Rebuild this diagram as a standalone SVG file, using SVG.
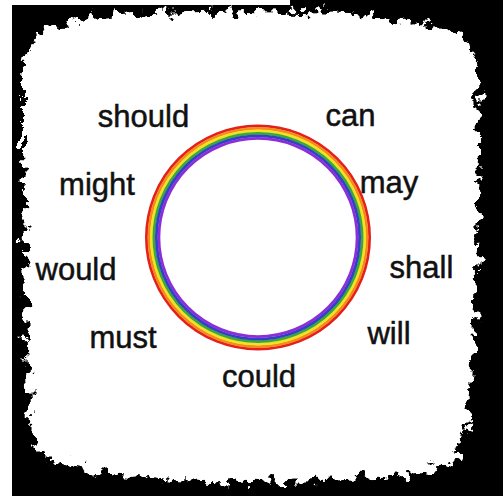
<svg xmlns="http://www.w3.org/2000/svg" width="503" height="496" viewBox="0 0 503 496">
  <defs>
    <filter id="rough" x="-10%" y="-10%" width="120%" height="120%">
      <feTurbulence type="fractalNoise" baseFrequency="0.09" numOctaves="5" seed="7" result="noise"/>
      <feDisplacementMap in="SourceGraphic" in2="noise" scale="26" xChannelSelector="R" yChannelSelector="G"/>
    </filter>
    <style>
      .word { font-family: "Liberation Sans", Arial, Helvetica, sans-serif; font-size: 31px; fill: #111; stroke: #111; stroke-width: 0.5; text-anchor: middle; }
      .band { fill: none; stroke-width: 2.8; }
    </style>
  </defs>

  <g id="background">
    <rect x="0" y="0" width="503" height="496" fill="#000"/>
    <rect x="0" y="0" width="12" height="496" fill="#fff"/>
    <rect x="0" y="0" width="290" height="5" fill="#fff"/>
    <path filter="url(#rough)" fill="#fff" d="M26,54 L44,30 L80,18 L150,13 L250,11 L350,13 L430,24 L470,40 L478,66 L479,150 L477,250 L473,350 L468,420 L456,460 L420,474 L350,479 L250,482 L170,480 L100,472 L52,460 L32,440 L27,350 L25,250 L23,150 L23,84 Z"/>
  </g>

  <g id="ring">
    <circle class="band" cx="258" cy="237.5" r="111.6" stroke="#e4201c"/>
    <circle class="band" cx="258" cy="237.5" r="109.1" stroke="#f58a1f"/>
    <circle class="band" cx="258" cy="237.5" r="106.6" stroke="#f3e21d"/>
    <circle class="band" cx="258" cy="237.5" r="104.1" stroke="#3aa83a"/>
    <circle class="band" cx="258" cy="237.5" r="101.6" stroke="#3040c8"/>
    <circle class="band" cx="258" cy="237.5" r="99.1" stroke="#8a2fd8"/>
  </g>

  <g id="should"><text class="word" x="143.5" y="127">should</text></g>
  <g id="can"><text class="word" x="350.5" y="126">can</text></g>
  <g id="might"><text class="word" x="97" y="195">might</text></g>
  <g id="may"><text class="word" x="389" y="193">may</text></g>
  <g id="would"><text class="word" x="76" y="280">would</text></g>
  <g id="shall"><text class="word" x="421.5" y="278">shall</text></g>
  <g id="must"><text class="word" x="123" y="348">must</text></g>
  <g id="will"><text class="word" x="389" y="344">will</text></g>
  <g id="could"><text class="word" x="259" y="387">could</text></g>

  <g id="connectors"/>
</svg>
